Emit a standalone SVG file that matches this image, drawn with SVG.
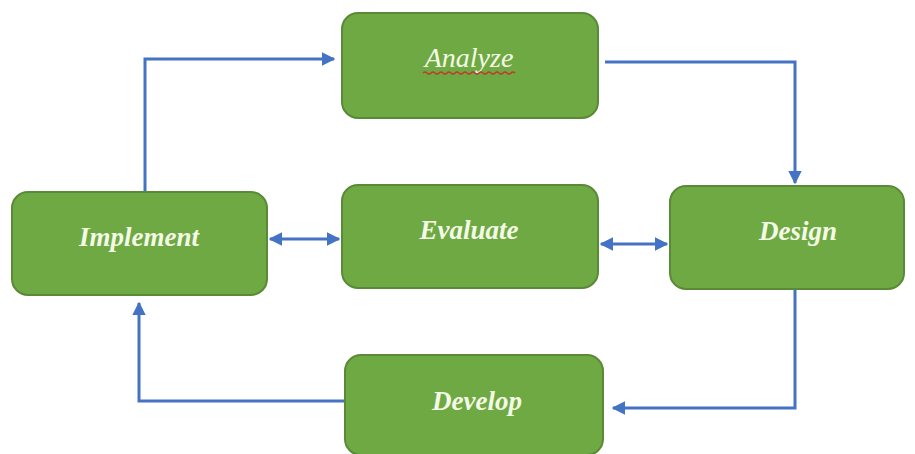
<svg xmlns="http://www.w3.org/2000/svg" width="915" height="454" viewBox="0 0 915 454">
<style>
.box{fill:#6FA944;stroke:#5A8A36;stroke-width:2}
.lbl{font-family:"Liberation Serif",serif;font-style:italic;font-weight:bold;font-size:27px;fill:#F4FAE6;text-anchor:middle}
.con{fill:none;stroke:#4472C4;stroke-width:3}
</style>
<defs>
<marker id="ah" viewBox="0 0 10 10" refX="9" refY="5" markerWidth="4.5" markerHeight="4.5" orient="auto-start-reverse" markerUnits="strokeWidth">
<path d="M0,0 L10,5 L0,10 z" fill="#4472C4"/>
</marker>
</defs>
<rect width="915" height="454" fill="#FFFFFF"/>
<g id="connectors">
<path class="con" d="M145,192 V59 H334" marker-end="url(#ah)"/>
<path class="con" d="M605,62 H795 V183" marker-end="url(#ah)"/>
<path class="con" d="M795,290 V408 H613" marker-end="url(#ah)"/>
<path class="con" d="M345,401 H139 V303" marker-end="url(#ah)"/>
<path class="con" d="M270,239 H339" marker-start="url(#ah)" marker-end="url(#ah)"/>
<path class="con" d="M601,244 H667" marker-start="url(#ah)" marker-end="url(#ah)"/>
</g>
<g id="analyze">
<rect class="box" x="342" y="13" width="256" height="105" rx="16"/>
<text class="lbl" x="469" y="67" style="font-weight:normal;font-size:28px">Analyze</text>
<path d="M423,73 q2,-2 4,0 t4,0 t4,0 t4,0 t4,0 t4,0 t4,0 t4,0 t4,0 t4,0 t4,0 t4,0 t4,0 t4,0 t4,0 t4,0 t4,0 t4,0 t4,0 t4,0 t4,0 t4,0 t4,0" fill="none" stroke="#C0392B" stroke-width="1.5"/>
</g>
<g id="implement">
<rect class="box" x="12" y="192" width="255" height="103" rx="16"/>
<text class="lbl" x="139" y="246">Implement</text>
</g>
<g id="evaluate">
<rect class="box" x="342" y="185" width="256" height="103" rx="16"/>
<text class="lbl" x="469" y="239">Evaluate</text>
</g>
<g id="design">
<rect class="box" x="670" y="186" width="234" height="103" rx="16"/>
<text class="lbl" x="798" y="240">Design</text>
</g>
<g id="develop">
<rect class="box" x="345" y="355" width="258" height="100" rx="16"/>
<text class="lbl" x="477" y="410">Develop</text>
</g>
</svg>
